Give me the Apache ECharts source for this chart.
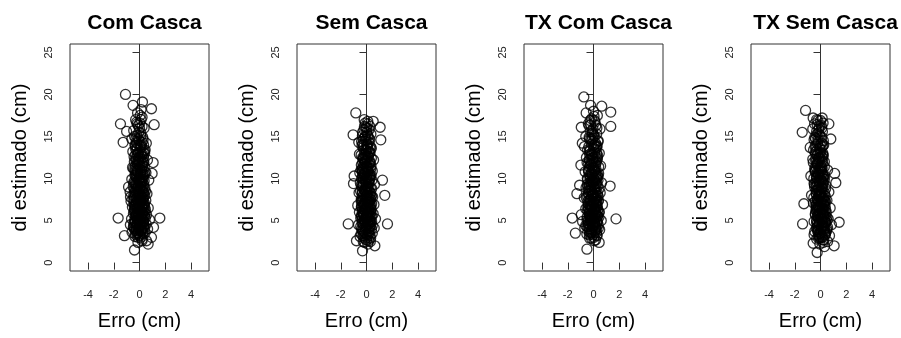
<!DOCTYPE html>
<html>
<head>
<meta charset="utf-8">
<script src="https://cdn.jsdelivr.net/npm/echarts@6/dist/echarts.min.js"></script>
<style>
  html, body { margin: 0; padding: 0; background: #fff; }
  #container { width: 901px; height: 338px; }
</style>
</head>
<body>
<div id="container"></div>
<script>
    // titulos dos paineis
    var titles = ['Com Casca', 'Sem Casca', 'TX Com Casca', 'TX Sem Casca'];
    var xTicks = [-4, -2, 0, 2, 4];
    var yTicks = [0, 5, 10, 15, 20, 25];

    // [erro (cm), di estimado (cm)]
    var comCasca = [
        [-1.09,20.0],[0.93,18.3],[0.23,19.1],[-0.5,18.7],[-1.48,16.5],[1.14,16.4],[-1.27,14.3],[-1.0,15.6],
        [-1.66,5.3],[1.58,5.3],[-0.39,1.5],[-1.17,3.2],[1.06,11.9],[0.98,10.6],[1.09,4.2],[0.67,2.2],
        [0.93,3.0],[-0.7,7.8],[-0.85,9.0],[0.54,2.6],
        [-0.12,2.4],[0.21,2.8],[-0.35,3.1],[0.05,3.3],[0.42,3.5],[-0.58,3.6],[0.18,3.8],[-0.22,3.9],[0.63,4.0],
        [-0.05,4.1],[0.31,4.2],[-0.44,4.3],[0.09,4.4],[-0.71,4.5],[0.52,4.6],[-0.16,4.7],[0.27,4.8],[-0.33,4.9],
        [0.02,5.0],[0.78,5.1],[-0.62,5.2],[0.14,5.3],[-0.25,5.4],[0.39,5.5],[-0.08,5.6],[0.55,5.7],[-0.47,5.8],
        [0.23,5.9],[-0.14,6.0],[0.07,6.1],[-0.38,6.2],[0.46,6.3],[-0.02,6.4],[0.68,6.5],[-0.55,6.6],[0.19,6.7],
        [-0.29,6.8],[0.35,6.9],[-0.11,7.0],[0.01,7.2],[-0.66,7.3],[0.49,7.4],[-0.19,7.5],[0.28,7.6],[-0.41,7.8],
        [0.12,7.9],[-0.05,8.1],[0.58,8.2],[-0.73,8.4],[0.24,8.5],[-0.27,8.6],[0.06,8.8],[0.41,8.9],[-0.49,9.0],
        [-0.09,9.2],[0.33,9.3],[-0.31,9.5],[0.15,9.6],[0.72,9.8],[-0.6,9.9],[-0.03,10.0],[0.26,10.2],[-0.36,10.4],
        [0.11,10.5],[0.5,10.7],[-0.22,10.9],[0.04,11.1],[-0.54,11.3],[0.37,11.4],[-0.13,11.6],[0.2,11.8],[-0.4,12.0],
        [0.62,12.2],[-0.07,12.4],[0.3,12.6],[-0.3,12.8],[0.08,13.0],[-0.52,13.2],[0.44,13.4],[-0.17,13.6],[0.16,13.8],
        [-0.35,14.0],[0.53,14.2],[-0.04,14.5],[-0.6,14.7],[0.25,14.9],[-0.2,15.1],[0.1,15.4],[-0.45,15.7],[0.36,16.0],
        [-0.1,16.3],[0.03,16.6],[-0.3,17.0],[0.2,17.3],[-0.15,17.8],[0.12,18.2],
        [-0.2,3.4],[0.1,3.7],[-0.4,4.0],[0.35,4.4],[-0.1,4.8],[0.22,5.2],[-0.32,5.6],[0.0,6.0],[0.4,6.6],[-0.25,7.1],
        [0.15,7.7],[-0.45,8.0],[0.3,8.3],[-0.15,9.0],[0.05,9.7],[-0.28,10.6],[0.18,11.0],[-0.06,12.0],[0.4,13.0],[-0.25,14.3],
        [0.08,3.0],[-0.3,3.3],[0.26,3.6],[-0.06,3.9],[0.4,4.1],[-0.48,4.2],[0.15,4.5],[-0.2,4.6],[0.33,4.9],[-0.38,5.0],
        [0.04,5.1],[0.45,5.3],[-0.28,5.5],[0.17,5.6],[-0.1,5.8],[0.3,6.0],[-0.42,6.1],[0.1,6.3],[-0.18,6.5],[0.25,6.6],
        [-0.35,6.8],[0.05,6.9],[0.38,7.1],[-0.22,7.2],[0.13,7.4],[-0.5,7.5],[-0.02,7.7],[0.32,7.8],[-0.3,8.0],[0.2,8.2],
        [-0.12,8.3],[0.46,8.5],[-0.4,8.7],[0.02,8.9],[0.28,9.0],[-0.24,9.2],[0.12,9.4],[-0.44,9.6],[0.36,9.7],[-0.06,9.9],
        [0.2,10.1],[-0.32,10.3],[0.07,10.6],[0.42,10.8],[-0.16,11.0],[-0.46,11.2],[0.24,11.5],[-0.04,11.7],[0.34,11.9],[-0.27,12.1],
        [0.1,12.3],[-0.42,12.6],[0.22,12.9],[-0.1,13.1],[0.38,13.3],[-0.3,13.5],[0.04,13.9],[-0.2,14.2],[0.28,14.6],[-0.38,15.0],
        [0.0,3.2],[-0.15,3.5],[0.18,4.0],[-0.26,4.4],[0.28,4.7],[-0.08,5.2],[0.12,5.7],[-0.36,6.4],[0.36,6.2],[-0.05,6.7],
        [0.22,7.0],[-0.14,7.3],[0.0,7.9],[-0.34,8.5],[0.16,8.7],[-0.02,9.5],[0.26,9.9],[-0.2,10.0],[0.1,10.8],[-0.3,11.5],
        [0.3,12.5],[-0.15,12.8],[0.12,14.0],[-0.05,15.5],[0.2,16.2],[-0.22,16.7],[0.05,17.5],[-0.35,6.9],[0.44,5.9],[-0.45,4.7],
        [-0.1,3.6],[0.14,3.9],[-0.28,4.1],[0.24,4.3],[0.0,4.5],[-0.36,4.8],[0.32,5.0],[-0.18,5.1],[0.1,5.4],[-0.04,5.6],
        [0.26,5.8],[-0.3,5.9],[0.06,6.2],[-0.16,6.4],[0.2,6.5],[-0.4,6.7],[0.34,6.8],[-0.08,7.0],[0.1,7.3],[-0.26,7.6],
        [0.24,7.7],[-0.12,7.9],[0.04,8.2],[-0.36,8.3],[0.34,8.4],[-0.18,8.8],[0.1,9.1],[-0.3,9.3],[0.22,9.5],[-0.08,9.8],
        [0.06,10.1],[-0.24,10.2],[0.3,10.4],[-0.12,10.7],[0.14,11.0],[-0.36,11.1],[0.04,11.4],[-0.18,11.8],[0.26,12.0],[-0.02,12.2],
        [-0.28,12.4],[0.16,12.7],[-0.1,13.0],[0.3,13.1],[-0.22,13.4],[0.06,13.7],[-0.32,13.9],[0.2,14.3],[-0.08,14.7],[0.1,15.1],
        [-0.2,5.3],[0.18,6.1],[-0.02,4.3],[0.12,4.9],[-0.22,6.9],[0.28,7.4],[-0.06,8.5],[0.16,9.8],[-0.16,10.8],[0.02,12.6],
        [-0.3,3.8],[0.3,3.4],[-0.12,3.0],[0.2,2.6],[-0.24,5.7],[0.36,5.6],[-0.4,7.4],[0.4,8.0],[-0.44,9.4],[0.38,10.5],
        [-0.1,6.6],[0.08,7.6],[-0.34,10.9],[0.22,11.3],[-0.14,12.1],[0.32,14.0],[-0.28,14.8],[0.0,16.0],[-0.18,16.5],[0.12,17.0]
    ];
    var semCasca = [
        [-0.83,17.8],[-0.18,17.0],[0.52,16.8],[1.06,16.1],[-1.04,15.2],[1.11,14.6],[-1.42,4.6],[1.63,4.6],
        [1.42,8.0],[-0.31,1.4],[0.65,2.0],[-0.78,2.6],[-1.01,9.4],[-0.96,10.3],[1.24,9.8],
        [0.1,2.2],[-0.25,2.5],[0.32,2.9],[-0.5,3.1],[0.05,3.3],[0.45,3.5],[-0.15,3.6],[0.2,3.8],[-0.38,4.0],[0.6,4.1],
        [-0.05,4.2],[0.28,4.4],[-0.62,4.5],[0.12,4.6],[-0.3,4.8],[0.4,4.9],[-0.1,5.0],[0.7,5.2],[-0.45,5.3],[0.18,5.4],
        [-0.22,5.6],[0.03,5.7],[0.52,5.8],[-0.55,6.0],[0.25,6.1],[-0.12,6.2],[0.36,6.4],[-0.35,6.5],[0.08,6.6],[-0.68,6.8],
        [0.58,6.9],[-0.2,7.0],[0.15,7.2],[-0.42,7.3],[0.33,7.5],[-0.03,7.6],[0.48,7.8],[-0.28,7.9],[0.06,8.1],[-0.58,8.3],
        [0.22,8.4],[-0.15,8.6],[0.4,8.8],[-0.36,9.0],[0.0,9.1],[0.62,9.3],[-0.48,9.5],[0.17,9.7],[-0.08,9.9],[0.3,10.1],
        [-0.32,10.3],[0.1,10.5],[-0.52,10.7],[0.45,10.9],[-0.18,11.1],[0.05,11.3],[-0.4,11.6],[0.28,11.8],[-0.1,12.0],
        [0.55,12.2],[-0.3,12.5],[0.12,12.7],[-0.55,12.9],[0.2,13.2],[-0.05,13.4],[0.38,13.6],[-0.35,13.9],[0.02,14.1],
        [-0.6,14.3],[0.25,14.6],[-0.15,14.9],[0.08,15.2],[-0.3,15.5],[0.2,15.8],[-0.05,16.1],[0.12,16.5],
        [-0.2,3.0],[0.15,3.4],[-0.3,3.8],[0.3,4.3],[-0.12,4.7],[0.22,5.1],[-0.35,5.5],[0.05,5.9],[0.35,6.3],[-0.25,6.7],
        [0.12,7.1],[-0.4,7.6],[0.25,8.0],[-0.1,8.5],[0.1,9.0],[-0.25,9.6],[0.2,10.2],[-0.05,11.0],[0.35,11.5],[-0.25,12.3],
        [0.0,13.0],[-0.2,14.0],
        [0.0,2.7],[-0.28,3.2],[0.22,3.5],[-0.08,3.9],[0.38,4.0],[-0.45,4.3],[0.12,4.5],[-0.18,4.9],[0.3,5.0],[-0.35,5.2],
        [0.02,5.4],[0.42,5.5],[-0.25,5.8],[0.16,6.0],[-0.12,6.2],[0.28,6.5],[-0.4,6.6],[0.08,6.8],[-0.2,7.0],[0.24,7.3],
        [-0.32,7.4],[0.03,7.7],[0.36,7.9],[-0.2,8.1],[0.12,8.3],[-0.46,8.5],[-0.04,8.7],[0.3,8.9],[-0.28,9.2],[0.18,9.4],
        [-0.1,9.6],[0.42,9.8],[-0.38,10.0],[0.0,10.2],[0.26,10.4],[-0.22,10.6],[0.1,10.8],[-0.42,11.0],[0.34,11.2],[-0.06,11.4],
        [0.18,11.7],[-0.3,11.9],[0.06,12.1],[0.38,12.4],[-0.14,12.6],[-0.42,12.8],[0.22,13.0],[-0.02,13.3],[0.3,13.5],[-0.25,13.7],
        [0.08,14.0],[-0.38,14.4],[0.2,14.8],[-0.08,15.0],[0.34,15.3],[-0.2,15.8],[0.02,16.0],[-0.1,16.6],[0.26,16.2],[-0.32,15.1],
        [0.05,3.0],[-0.12,3.6],[0.2,4.1],[-0.25,4.6],[0.26,4.7],[-0.05,5.3],[0.1,5.6],[-0.33,6.1],[0.34,6.0],[-0.02,6.5],
        [0.2,6.9],[-0.12,7.2],[0.02,8.0],[-0.32,8.4],[0.15,8.7],[-0.02,9.4],[0.24,9.9],[-0.18,10.4],[0.08,11.0],[-0.28,11.3],
        [0.28,12.0],[-0.12,12.3],[0.1,13.6],[-0.3,10.9],[0.4,7.0],[-0.4,5.6],[0.45,4.4],[-0.42,3.4],[0.3,2.5],[-0.15,2.4],
        [-0.06,3.4],[0.16,3.7],[-0.3,3.9],[0.22,4.2],[0.02,4.4],[-0.34,4.7],[0.3,4.8],[-0.16,5.1],[0.08,5.3],[-0.02,5.5],
        [0.24,5.7],[-0.28,5.9],[0.04,6.1],[-0.18,6.3],[0.18,6.4],[-0.38,6.7],[0.32,6.8],[-0.06,7.0],[0.12,7.2],[-0.24,7.5],
        [0.22,7.6],[-0.14,7.8],[0.02,8.0],[-0.34,8.2],[0.32,8.3],[-0.16,8.7],[0.08,9.0],[-0.28,9.3],[0.2,9.5],[-0.06,9.7],
        [0.04,10.0],[-0.26,10.1],[0.28,10.3],[-0.1,10.6],[0.12,10.9],[-0.34,11.1],[0.02,11.4],[-0.2,11.7],[0.24,11.9],[0.0,12.2],
        [-0.26,12.4],[0.14,12.6],[-0.12,12.9],[0.28,13.1],[-0.2,13.4],[0.04,13.8],[-0.3,14.1],[0.18,14.3],[-0.06,14.6],[0.1,15.0],
        [-0.18,5.2],[0.16,6.0],[0.0,4.1],[0.1,4.8],[-0.2,6.8],[0.26,7.3],[-0.04,8.4],[0.14,9.6],[-0.14,10.7],[0.0,12.5],
        [-0.28,3.6],[0.28,3.2],[-0.1,2.8],[0.18,2.6],[-0.22,5.7],[0.34,5.5],[-0.38,7.3],[0.38,7.9],[-0.42,9.2],[0.36,10.4],
        [-0.08,6.5],[0.06,7.5],[-0.32,10.8],[0.2,11.2],[-0.12,12.0],[0.3,13.8],[-0.26,14.7],[0.02,15.5],[-0.16,16.2],[0.1,16.8]
    ];
    var txComCasca = [
        [-0.75,19.7],[-0.23,18.7],[0.64,18.6],[1.34,17.9],[-0.57,17.8],[1.34,16.2],[-0.95,16.1],[-0.87,14.2],
        [1.75,5.2],[-0.51,1.6],[-1.65,5.3],[-1.41,3.5],[-1.29,8.2],[-1.08,9.2],[1.29,9.1],[0.44,2.4],[-0.98,11.6],
        [0.05,2.6],[-0.3,2.9],[0.28,3.2],[-0.52,3.4],[0.12,3.6],[-0.15,3.8],[0.48,3.9],[-0.68,4.1],[0.2,4.2],
        [-0.08,4.4],[0.36,4.5],[-0.4,4.6],[0.02,4.8],[-0.85,4.9],[0.6,5.0],[-0.22,5.1],[0.15,5.3],[-0.5,5.4],
        [0.3,5.6],[-0.95,5.7],[-0.05,5.8],[0.45,6.0],[-0.32,6.1],[0.1,6.3],[-0.6,6.4],[0.25,6.6],[-0.15,6.7],
        [0.7,6.9],[-0.42,7.0],[0.0,7.2],[0.38,7.4],[-0.25,7.5],[-0.72,7.7],[0.18,7.9],[-0.1,8.1],[0.52,8.3],
        [-0.35,8.5],[0.08,8.7],[-0.58,8.9],[0.3,9.1],[-0.18,9.3],[0.62,9.5],[-0.02,9.7],[-0.45,9.9],[0.22,10.1],
        [-0.28,10.4],[0.4,10.6],[-0.65,10.8],[0.1,11.0],[-0.12,11.3],[0.55,11.5],[-0.38,11.8],[0.05,12.0],[0.3,12.3],
        [-0.55,12.5],[-0.08,12.8],[0.45,13.0],[-0.3,13.3],[0.15,13.5],[-0.7,13.8],[0.02,14.0],[0.35,14.4],[-0.2,14.7],
        [-0.6,15.0],[0.25,15.3],[-0.1,15.6],[0.5,15.9],[-0.35,16.3],[0.12,16.7],[-0.15,17.1],[0.3,17.5],[0.0,18.0],
        [-0.25,3.5],[0.2,3.9],[-0.4,4.3],[0.1,4.7],[-0.15,5.2],[0.3,5.5],[-0.35,5.9],[0.05,6.2],[-0.2,6.8],[0.2,7.3],
        [-0.45,7.8],[0.12,8.4],[-0.2,9.0],[0.35,9.8],[-0.1,10.5],[0.15,11.7],[-0.3,12.2],[0.25,13.7],[-0.05,14.8],
        [0.04,3.0],[-0.32,3.3],[0.24,3.6],[-0.1,3.9],[0.38,4.1],[-0.5,4.3],[0.12,4.5],[-0.22,4.7],[0.3,4.9],[-0.42,5.0],
        [0.0,5.2],[0.42,5.4],[-0.3,5.5],[0.14,5.7],[-0.14,5.9],[0.28,6.1],[-0.46,6.2],[0.06,6.4],[-0.22,6.6],[0.22,6.8],
        [-0.38,6.9],[0.02,7.1],[0.36,7.3],[-0.26,7.4],[0.1,7.6],[-0.55,7.7],[-0.06,7.9],[0.3,8.0],[-0.34,8.2],[0.16,8.4],
        [-0.16,8.6],[0.44,8.8],[-0.44,9.0],[-0.02,9.2],[0.26,9.4],[-0.28,9.6],[0.1,9.8],[-0.48,10.0],[0.34,10.2],[-0.1,10.4],
        [0.18,10.7],[-0.36,10.9],[0.04,11.2],[0.4,11.4],[-0.2,11.6],[-0.5,11.9],[0.2,12.1],[-0.08,12.4],[0.32,12.7],[-0.3,12.9],
        [0.08,13.1],[-0.46,13.4],[0.2,13.8],[-0.14,14.1],[0.36,14.5],[-0.34,14.9],[0.02,15.2],[-0.22,15.6],[0.26,16.0],[-0.4,16.5],
        [-0.02,3.3],[-0.18,3.6],[0.16,4.0],[-0.3,4.5],[0.26,4.7],[-0.1,5.3],[0.1,5.8],[-0.38,6.4],[0.34,6.3],[-0.08,6.7],
        [0.2,7.0],[-0.16,7.3],[-0.02,8.0],[-0.36,8.6],[0.14,8.9],[-0.04,9.5],[0.24,10.0],[-0.22,10.1],[0.08,10.9],[-0.32,11.4],
        [0.28,12.5],[-0.18,12.8],[0.1,14.0],[-0.08,15.4],[0.18,16.3],[-0.26,16.9],[0.04,17.4],[-0.5,5.1],[0.42,6.0],[-0.6,4.4],
        [-0.14,3.5],[0.1,3.8],[-0.32,4.0],[0.2,4.2],[-0.04,4.4],[-0.4,4.7],[0.28,4.9],[-0.22,5.0],[0.06,5.3],[-0.08,5.5],
        [0.22,5.7],[-0.34,5.8],[0.02,6.1],[-0.2,6.3],[0.16,6.4],[-0.44,6.6],[0.3,6.7],[-0.12,6.9],[0.06,7.2],[-0.3,7.5],
        [0.2,7.6],[-0.16,7.8],[0.0,8.1],[-0.4,8.2],[0.3,8.3],[-0.22,8.7],[0.06,9.0],[-0.34,9.2],[0.18,9.4],[-0.12,9.7],
        [0.02,10.0],[-0.28,10.1],[0.26,10.3],[-0.16,10.6],[0.1,10.9],[-0.4,11.0],[0.0,11.3],[-0.22,11.7],[0.22,11.9],[-0.06,12.1],
        [-0.32,12.3],[0.12,12.6],[-0.14,12.9],[0.26,13.0],[-0.26,13.3],[0.02,13.6],[-0.36,13.8],[0.16,14.2],[-0.12,14.6],[0.06,15.0],
        [-0.24,5.2],[0.14,6.0],[-0.06,4.2],[0.08,4.8],[-0.26,6.8],[0.24,7.3],[-0.1,8.4],[0.12,9.7],[-0.2,10.7],[-0.02,12.5],
        [-0.34,3.7],[0.26,3.3],[-0.16,2.9],[0.16,2.7],[-0.28,5.6],[0.32,5.5],[-0.44,7.3],[0.36,7.9],[-0.48,9.3],[0.34,10.4],
        [-0.14,6.5],[0.04,7.5],[-0.38,10.8],[0.18,11.2],[-0.18,12.0],[0.28,13.9],[-0.32,14.7],[-0.04,15.9],[-0.22,16.4],[0.08,16.9]
    ];
    var txSemCasca = [
        [-1.16,18.1],[-0.57,17.2],[0.13,17.2],[0.65,16.5],[-1.42,15.5],[0.8,14.7],[-1.39,4.6],[1.45,4.8],
        [1.19,9.5],[-0.26,1.2],[1.06,2.0],[-0.57,2.3],[-1.29,7.0],[1.1,10.6],
        [0.3,1.9],[-0.05,2.2],[0.55,2.5],[-0.3,2.8],[0.15,3.0],[0.7,3.2],[-0.15,3.4],[0.35,3.6],[-0.45,3.7],[0.05,3.9],
        [0.5,4.0],[-0.25,4.2],[0.2,4.3],[0.85,4.5],[-0.1,4.6],[0.4,4.8],[-0.5,4.9],[0.1,5.1],[0.6,5.2],[-0.2,5.4],
        [0.25,5.6],[-0.4,5.7],[0.0,5.9],[0.45,6.0],[-0.3,6.2],[0.15,6.4],[0.75,6.5],[-0.15,6.7],[0.3,6.9],[-0.55,7.1],
        [0.05,7.2],[0.5,7.4],[-0.25,7.6],[0.2,7.8],[-0.7,8.0],[-0.05,8.2],[0.65,8.4],[-0.35,8.6],[0.1,8.8],[-0.15,9.0],
        [0.4,9.2],[-0.5,9.4],[0.0,9.7],[0.3,9.9],[-0.3,10.1],[-0.75,10.3],[0.15,10.5],[-0.1,10.8],[0.55,11.0],[-0.45,11.2],
        [0.05,11.5],[-0.25,11.8],[0.3,12.0],[-0.6,12.3],[-0.1,12.5],[0.2,12.8],[-0.4,13.1],[0.0,13.4],[-0.8,13.7],
        [0.25,14.0],[-0.2,14.3],[-0.5,14.6],[0.1,14.9],[-0.3,15.2],[0.15,15.6],[-0.6,15.9],[-0.1,16.2],[0.2,16.6],[-0.3,17.0],
        [0.2,2.7],[-0.1,3.1],[0.4,3.5],[-0.2,3.9],[0.25,4.4],[-0.3,4.8],[0.3,5.3],[-0.1,5.8],[0.1,6.3],[-0.35,6.8],
        [0.35,7.3],[-0.15,7.9],[0.05,8.5],[-0.3,9.1],[0.2,9.6],[-0.2,10.4],[0.1,11.3],[-0.35,12.0],[-0.05,13.0],[-0.35,13.9],
        [0.2,2.4],[-0.15,2.9],[0.36,3.3],[0.0,3.6],[0.48,3.8],[-0.32,4.1],[0.22,4.3],[-0.1,4.6],[0.4,4.7],[-0.3,5.0],
        [0.1,5.2],[0.5,5.4],[-0.2,5.5],[0.22,5.7],[-0.06,5.9],[0.34,6.1],[-0.36,6.2],[0.14,6.4],[-0.16,6.6],[0.28,6.8],
        [-0.34,6.9],[0.06,7.1],[0.38,7.3],[-0.22,7.4],[0.12,7.6],[-0.52,7.7],[-0.04,7.9],[0.3,8.0],[-0.34,8.2],[0.14,8.4],
        [-0.18,8.6],[0.4,8.8],[-0.46,9.0],[-0.04,9.2],[0.22,9.4],[-0.3,9.6],[0.06,9.8],[-0.52,10.0],[0.28,10.2],[-0.14,10.4],
        [0.12,10.7],[-0.4,10.9],[-0.02,11.2],[0.3,11.4],[-0.26,11.6],[-0.56,11.9],[0.12,12.1],[-0.16,12.4],[0.2,12.7],[-0.38,12.9],
        [0.0,13.1],[-0.54,13.4],[0.12,13.8],[-0.24,14.1],[0.22,14.5],[-0.44,14.9],[-0.08,15.2],[-0.3,15.6],[0.1,16.0],[-0.46,16.5],
        [0.12,3.1],[-0.06,3.5],[0.3,4.0],[-0.18,4.4],[0.34,4.9],[-0.02,5.3],[0.16,5.8],[-0.3,6.4],[0.4,6.3],[-0.04,6.7],
        [0.22,7.0],[-0.12,7.3],[0.0,8.0],[-0.3,8.6],[0.16,8.9],[-0.1,9.5],[0.18,10.0],[-0.26,10.1],[0.02,10.9],[-0.36,11.4],
        [0.16,12.5],[-0.26,12.8],[-0.02,14.0],[-0.18,15.4],[0.06,16.3],[-0.2,16.9],[0.5,5.0],[-0.4,5.8],[0.55,4.2],[-0.5,3.3],
        [0.02,3.4],[0.24,3.7],[-0.2,3.9],[0.3,4.1],[0.08,4.3],[-0.26,4.6],[0.38,4.8],[-0.08,4.9],[0.16,5.2],[0.04,5.4],
        [0.3,5.6],[-0.2,5.8],[0.1,6.0],[-0.1,6.2],[0.24,6.4],[-0.32,6.6],[0.36,6.7],[-0.02,6.9],[0.14,7.2],[-0.2,7.5],
        [0.24,7.6],[-0.1,7.8],[0.04,8.1],[-0.32,8.2],[0.3,8.3],[-0.16,8.7],[0.06,9.0],[-0.3,9.2],[0.16,9.4],[-0.12,9.7],
        [-0.02,10.0],[-0.32,10.1],[0.22,10.3],[-0.18,10.6],[0.06,10.9],[-0.42,11.0],[-0.04,11.3],[-0.26,11.7],[0.16,11.9],[-0.1,12.1],
        [-0.38,12.3],[0.06,12.6],[-0.2,12.9],[0.18,13.0],[-0.32,13.3],[-0.04,13.6],[-0.42,13.8],[0.08,14.2],[-0.2,14.6],[-0.02,15.0],
        [-0.14,5.2],[0.22,6.0],[0.06,4.2],[0.16,4.8],[-0.2,6.8],[0.3,7.3],[-0.08,8.4],[0.1,9.7],[-0.24,10.7],[-0.08,12.5],
        [-0.22,3.7],[0.36,3.3],[-0.04,2.9],[0.26,2.7],[-0.24,5.6],[0.4,5.5],[-0.4,7.3],[0.38,7.9],[-0.46,9.3],[0.3,10.4],
        [-0.08,6.5],[0.08,7.5],[-0.42,10.8],[0.12,11.2],[-0.22,12.0],[0.18,13.9],[-0.38,14.7],[-0.12,15.9],[-0.26,16.4],[0.0,16.9]
    ];
    var panels = [comCasca, semCasca, txComCasca, txSemCasca];

    var lefts = [70, 297, 524, 751];
    var boxW = 139, boxTop = 44, boxH = 227;
    var txt = '#222';

    var option = { animation: false, title: [], grid: [], xAxis: [], yAxis: [], series: [] };

    panels.forEach(function (d, i) {
        option.title.push({
            text: titles[i], left: lefts[i] + boxW / 2, top: 8, textAlign: 'center',
            textStyle: { fontFamily: 'Liberation Sans', fontSize: 21, fontWeight: 'bold', color: '#000' }
        });
        option.grid.push({
            left: lefts[i], top: boxTop, width: boxW, height: boxH,
            show: true, borderColor: '#333', borderWidth: 1, backgroundColor: 'transparent'
        });
        option.xAxis.push({
            type: 'value', gridIndex: i, min: -5.4, max: 5.4,
            name: 'Erro (cm)', nameLocation: 'middle', nameGap: 40,
            nameTextStyle: { fontFamily: 'Liberation Sans', fontSize: 20, color: '#000' },
            axisLine: { show: false },
            axisTick: { show: true, length: 7, customValues: xTicks, lineStyle: { color: '#333' } },
            axisLabel: { customValues: xTicks, margin: 18, fontFamily: 'Liberation Sans', fontSize: 11, color: txt },
            splitLine: { show: false }
        });
        option.yAxis.push({
            type: 'value', gridIndex: i, min: -1, max: 26,
            name: 'di estimado (cm)', nameLocation: 'middle', nameGap: 40,
            nameTextStyle: { fontFamily: 'Liberation Sans', fontSize: 20, color: '#000' },
            axisLine: { show: false },
            axisTick: { show: true, length: 7, customValues: yTicks, lineStyle: { color: '#333' } },
            axisLabel: { customValues: yTicks, rotate: 90, margin: 16, fontFamily: 'Liberation Sans', fontSize: 11, color: txt },
            splitLine: { show: false }
        });
        // linha vertical em zero
        option.series.push({
            type: 'line', xAxisIndex: i, yAxisIndex: i, data: [[0, -1], [0, 26]],
            showSymbol: false, silent: true, lineStyle: { color: '#333', width: 1 }, z: 1
        });
        option.series.push({
            type: 'scatter', xAxisIndex: i, yAxisIndex: i, data: d,
            symbol: 'circle', symbolSize: 10, z: 2, large: false,
            itemStyle: { color: 'rgba(0,0,0,0)', borderColor: '#000', borderWidth: 1.3 }
        });
    });

    var myChart = echarts.init(document.getElementById('container'));
    myChart.setOption(option);
</script>
</body>
</html>
